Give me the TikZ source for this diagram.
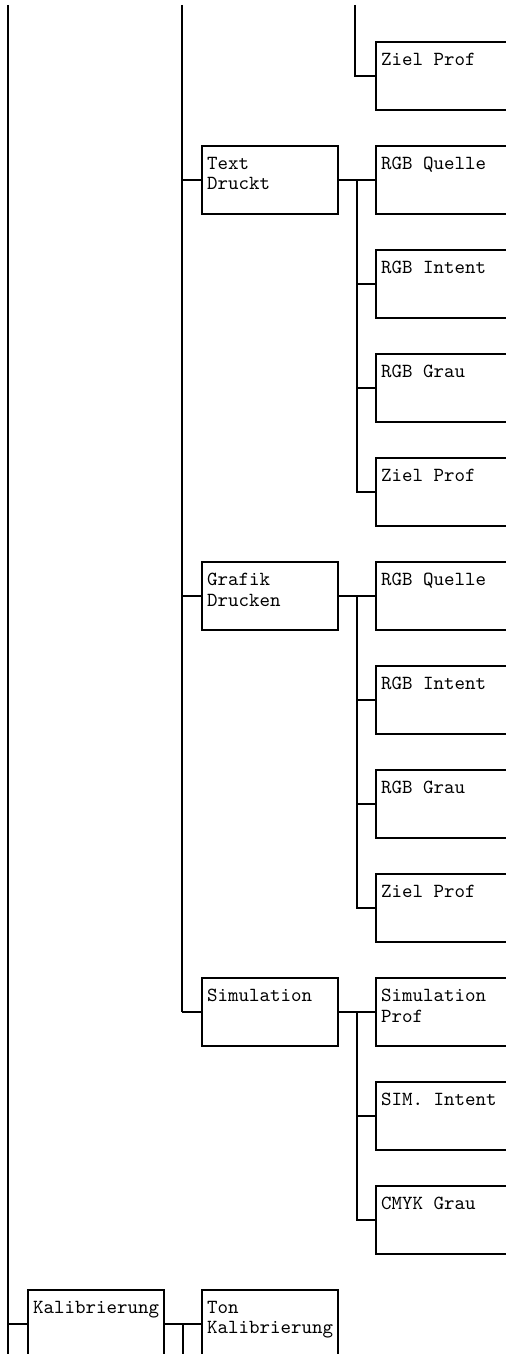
\documentclass[tikz,border=0pt]{standalone}
\usetikzlibrary{positioning,calc}

\begin{document}
\begin{tikzpicture}[
  x=0.5pt, y=-0.5pt,
  box/.style={draw, line width=1pt, minimum width=68pt, minimum height=34pt,
    inner sep=0pt, label={[txt]north west:#1}},
  txt/.style={anchor=north west, align=left, inner xsep=2.8pt, inner ysep=5.9pt,
    font=\ttfamily\fontsize{10}{10.2}\selectfont},
  wire/.style={line width=1pt},
  node distance=17pt and 18pt
]
\useasboundingbox (0,0) rectangle (506,1354);
\clip (0,0) rectangle (506,1354);

% third level
\node[box=Ziel Prof, anchor=north west] (zp0) at (375,41) {};
\node[box=RGB Quelle, below=of zp0] (tdq) {};
\node[box=RGB Intent, below=of tdq] (tdi) {};
\node[box=RGB Grau, below=of tdi] (tdg) {};
\node[box=Ziel Prof, below=of tdg] (tdz) {};
\node[box=RGB Quelle, below=of tdz] (gdq) {};
\node[box=RGB Intent, below=of gdq] (gdi) {};
\node[box=RGB Grau, below=of gdi] (gdg) {};
\node[box=Ziel Prof, below=of gdg] (gdz) {};
\node[box={Simulation\\Prof}, below=of gdz] (simp) {};
\node[box=SIM. Intent, below=of simp] (simi) {};
\node[box=CMYK Grau, below=of simi] (simg) {};

% second level
\node[box={Text\\Druckt}, left=of tdq] (td) {};
\node[box={Grafik\\Drucken}, left=of gdq] (gd) {};
\node[box=Simulation, left=of simp] (sim) {};
\node[box={Ton\\Kalibrierung}, below=121pt of sim] (ton) {};
\node[box=Kalibrierung, left=of ton] (kal) {};

% free ends
\coordinate (lt0) at (8,5);
\coordinate (lb0) at (8,1354);
\coordinate (lt1) at (182,5);
\coordinate (lb1) at (182,1354);
\coordinate (lt2) at (355,5);

\draw[wire] (lt0) -- (lb0);
\draw[wire] (lt0 |- kal.west) -- (kal.west);
\draw[wire] (lt1) -- (lt1 |- sim.west);
\foreach \n in {td,gd,sim}
  \draw[wire] (lt1 |- \n.west) -- (\n.west);
\draw[wire] (lt2) |- (zp0.west);

\draw[wire] (td.east) -- (tdq.west);
\coordinate (tdb) at ($(td.east)!.5!(tdq.west)$);
\draw[wire] (tdb) |- (tdz.west);
\foreach \c in {tdi,tdg}
  \draw[wire] (tdb |- \c.west) -- (\c.west);

\draw[wire] (gd.east) -- (gdq.west);
\coordinate (gdb) at ($(gd.east)!.5!(gdq.west)$);
\draw[wire] (gdb) |- (gdz.west);
\foreach \c in {gdi,gdg}
  \draw[wire] (gdb |- \c.west) -- (\c.west);

\draw[wire] (sim.east) -- (simp.west);
\coordinate (simb) at ($(sim.east)!.5!(simp.west)$);
\draw[wire] (simb) |- (simg.west);
\draw[wire] (simb |- simi.west) -- (simi.west);

\draw[wire] (kal.east) -- (ton.west);
\coordinate (kalb) at ($(kal.east)!.5!(ton.west)$);
\draw[wire] (kalb) -- (kalb |- lb1);
\end{tikzpicture}
\end{document}
